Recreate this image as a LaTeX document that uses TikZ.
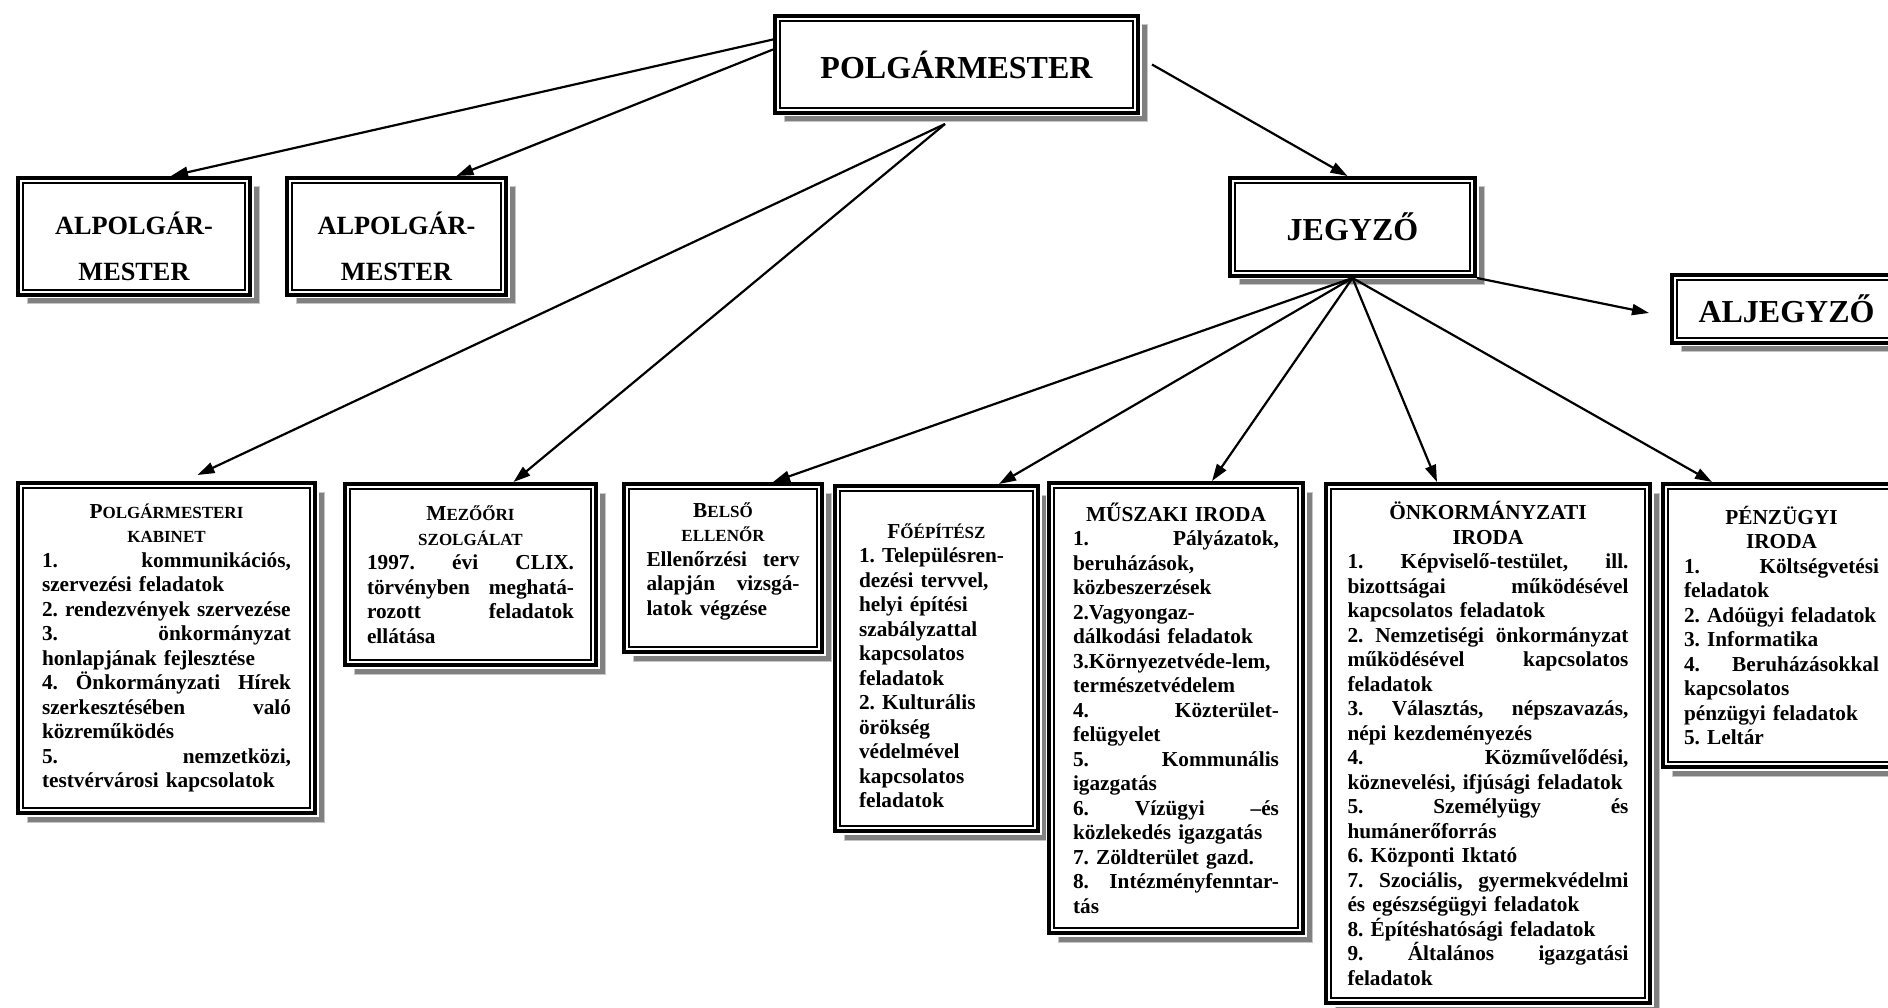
\documentclass[tikz,border=0pt]{standalone}
\usepackage{fontspec}
\setmainfont{Liberation Serif}
\usetikzlibrary{arrows.meta,shadows}
\frenchspacing
\newcommand{\sorkiz}[1]{\leavevmode\hbox to\linewidth{#1}}
\newcommand{\kozep}[1]{\makebox[\linewidth][c]{#1}}
\newcommand{\kiscap}[2]{#1{\fontsize{17}{24.5}\selectfont #2}}
\tikzset{
  doboz/.style={draw, line width=4pt, fill=white, anchor=north west, inner xsep=4pt, inner ysep=0pt,
    drop shadow={shadow xshift=9pt, shadow yshift=-9pt, fill=gray, draw=gray!45, line width=1pt, opacity=1},
    preaction={draw=white, line width=7pt},
    path picture={\draw[line width=2pt] ([shift={(5pt,-5pt)}]path picture bounding box.north west) rectangle ([shift={(-5pt,5pt)}]path picture bounding box.south east);}},
  felirat/.style={font=\bfseries\fontsize{32}{38}\selectfont},
  alpolg/.style={doboz, font=\bfseries\fontsize{26.3}{46}\selectfont, text width=200pt, align=center, minimum height=117pt},
  iroda/.style={doboz, align=left, font=\bfseries\fontsize{21.3}{24.5}\selectfont},
  nyil/.style={line width=2.2pt, -{Triangle[length=17pt,width=11pt]}}
}
\begin{document}
\begin{tikzpicture}[x=1pt, y=-1pt]
    \useasboundingbox (0,0) rectangle (1888,1008);
    % vezetes
    \node [doboz, felirat, minimum width=363pt, minimum height=97pt] (polg) at (773,14) {POLGÁRMESTER};
    \node [alpolg, minimum width=232pt] (alp1) at (16,176) {\rule{0pt}{42pt}ALPOLGÁR-\\MESTER};
    \node [alpolg, minimum width=219pt] (alp2) at (285,176) {\rule{0pt}{42pt}ALPOLGÁR-\\MESTER};
    \node [doboz, felirat, minimum width=245pt, minimum height=98pt] (jegyzo) at (1228,176) {JEGYZŐ};
    \node [doboz, felirat, minimum width=229pt, minimum height=68pt] (aljegyzo) at (1670,273) {ALJEGYZŐ};
    % irodak
    \node [iroda, text width=249pt, minimum width=297pt, minimum height=330pt] (kabinet) at (16,481) {%
        \kozep{\kiscap{P}{OLGÁRMESTERI}}\\
        \kozep{\kiscap{}{KABINET}}\\
        \sorkiz{1.\hfill kommunikációs,}\\
        szervezési feladatok\\
        2. rendezvények szervezése\\
        \sorkiz{3.\hfill önkormányzat}\\
        honlapjának fejlesztése\\
        \sorkiz{4.\hfill Önkormányzati\hfill Hírek}\\
        \sorkiz{szerkesztésében\hfill való}\\
        közreműködés\\
        \sorkiz{5.\hfill nemzetközi,}\\
        testvérvárosi kapcsolatok};
    \node [iroda, text width=207pt, minimum width=251pt, minimum height=181pt] (mezoori) at (343,482) {%
        \kozep{\kiscap{M}{EZŐŐRI}}\\
        \kozep{\kiscap{}{SZOLGÁLAT}}\\
        \sorkiz{1997.\hfill évi\hfill CLIX.}\\
        \sorkiz{törvényben\hfill meghatá-}\\
        \sorkiz{rozott\hfill feladatok}\\
        ellátása};
    \node [iroda, text width=153pt, minimum width=198pt, minimum height=168pt] (belso) at (622,482) {%
        \kozep{\kiscap{B}{ELSŐ}}\\
        \kozep{\kiscap{}{ELLENŐR}}\\
        \sorkiz{Ellenőrzési\hfill terv}\\
        \sorkiz{alapján\hfill vizsgá-}\\
        latok végzése\rule[-18pt]{0pt}{18pt}};
    \node [iroda, text width=155pt, minimum width=203pt, minimum height=345pt] (foepitesz) at (833,484) {%
        \kozep{\rule{0pt}{29pt}\kiscap{F}{ŐÉPÍTÉSZ}}\\
        1. Településren-\\
        dezési tervvel,\\
        helyi építési\\
        szabályzattal\\
        kapcsolatos\\
        feladatok\\
        2. Kulturális\\
        örökség\\
        védelmével\\
        kapcsolatos\\
        feladatok};
    \node [iroda, text width=206pt, minimum width=254pt, minimum height=450pt] (muszaki) at (1047,481) {%
        \kozep{MŰSZAKI IRODA}\\
        \sorkiz{1.\hfill Pályázatok,}\\
        beruházások,\\
        közbeszerzések\\
        2.Vagyongaz-\\
        dálkodási feladatok\\
        3.Környezetvéde-lem,\\
        természetvédelem\\
        \sorkiz{4.\hfill Közterület-}\\
        felügyelet\\
        \sorkiz{5.\hfill Kommunális}\\
        igazgatás\\
        \sorkiz{6.\hfill Vízügyi\hfill –és}\\
        közlekedés igazgatás\\
        7. Zöldterület gazd.\\
        \sorkiz{8.\hfill Intézményfenntar-}\\
        tás};
    \node [iroda, text width=281pt, minimum width=324pt, minimum height=519pt] (onk) at (1324,482) {%
        \kozep{ÖNKORMÁNYZATI}\\
        \kozep{IRODA}\\
        \sorkiz{1.\hfill Képviselő-testület,\hfill ill.}\\
        \sorkiz{bizottságai\hfill működésével}\\
        kapcsolatos feladatok\\
        \sorkiz{2.\hfill Nemzetiségi\hfill önkormányzat}\\
        \sorkiz{működésével\hfill kapcsolatos}\\
        feladatok\\
        \sorkiz{3.\hfill Választás,\hfill népszavazás,}\\
        népi kezdeményezés\\
        \sorkiz{4.\hfill Közművelődési,}\\
        köznevelési, ifjúsági feladatok\\
        \sorkiz{5.\hfill Személyügy\hfill és}\\
        humánerőforrás\\
        6. Központi Iktató\\
        \sorkiz{7.\hfill Szociális,\hfill gyermekvédelmi}\\
        és egészségügyi feladatok\\
        8. Építéshatósági feladatok\\
        \sorkiz{9.\hfill Általános\hfill igazgatási}\\
        feladatok};
    \node [iroda, text width=195pt, minimum width=237pt, minimum height=283pt] (penz) at (1661,482) {%
        \kozep{PÉNZÜGYI}\\
        \kozep{IRODA}\\
        \sorkiz{1.\hfill Költségvetési}\\
        feladatok\\
        2. Adóügyi feladatok\\
        3. Informatika\\
        \sorkiz{4.\hfill Beruházásokkal}\\
        kapcsolatos\\
        pénzügyi feladatok\\
        5. Leltár};
    % nyilak
    \coordinate (polgalj) at ([xshift=-11.5pt, yshift=-9pt]polg.south);
    \draw [nyil] ([yshift=25pt]polg.west) -- ([xshift=37pt]alp1.north);
    \draw [nyil] ([yshift=15pt]polg.west) -- ([xshift=60pt]alp2.north);
    \draw [nyil] (polgalj) -- ([xshift=31pt, yshift=6pt]kabinet.north);
    \draw [nyil] (polgalj) -- ([xshift=43pt]mezoori.north);
    \draw [nyil] ([xshift=12pt]polg.east) -- ([xshift=-5pt]jegyzo.north);
    \draw [nyil] (jegyzo.south) -- ([xshift=50pt]belso.north);
    \draw [nyil] (jegyzo.south) -- ([xshift=62.5pt]foepitesz.north);
    \draw [nyil] (jegyzo.south) -- ([xshift=36pt]muszaki.north);
    \draw [nyil] (jegyzo.south) -- ([xshift=-51pt]onk.north);
    \draw [nyil] (jegyzo.south) -- ([xshift=-69.5pt]penz.north);
    \draw [nyil] (jegyzo.south east) -- ([xshift=-21pt, yshift=-4pt]aljegyzo.west);
\end{tikzpicture}
\end{document}
